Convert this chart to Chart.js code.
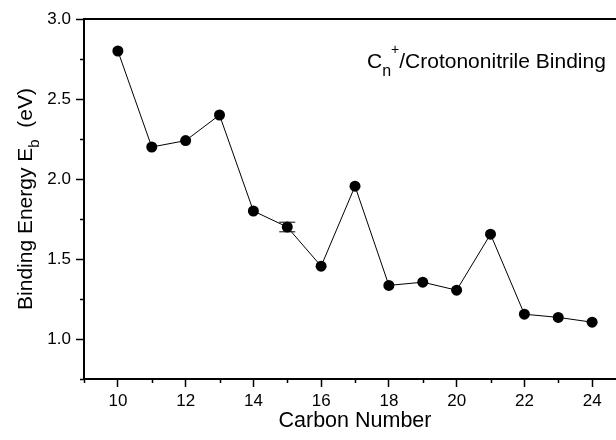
<!DOCTYPE html>
<html>
<head>
<meta charset="utf-8">
<script src="https://cdn.jsdelivr.net/npm/chart.js@4"></script>
<style>
  html, body { margin: 0; padding: 0; background: #fff; overflow: hidden; }
  #wrap { width: 616px; height: 440px; overflow: hidden; }
</style>
</head>
<body>
<div id="wrap"><canvas id="bindingChart" width="640" height="440"></canvas></div>
<script>
const carbonNumbers = [10, 11, 12, 13, 14, 15, 16, 17, 18, 19, 20, 21, 22, 23, 24];
const bindingEnergy = [2.80, 2.20, 2.24, 2.40, 1.80, 1.70, 1.455, 1.955, 1.335, 1.355, 1.305, 1.655, 1.155, 1.135, 1.105];
const energyError = [0, 0, 0, 0, 0, 0.03, 0, 0, 0, 0, 0, 0, 0, 0, 0];
const xTicks = [9, 10, 11, 12, 13, 14, 15, 16, 17, 18, 19, 20, 21, 22, 23, 24, 25];
const yTicks = [0.75, 1.0, 1.25, 1.5, 1.75, 2.0, 2.25, 2.5, 2.75, 3.0];

const FONT = '"Liberation Sans", Arial, sans-serif';

const isMajorX = v => v % 2 === 0;
const isMajorY = v => Math.abs(v * 2 - Math.round(v * 2)) < 1e-6;

// draws a list of {t, size, dy} runs from the current origin
function drawRuns(c, runs, align) {
    let total = 0;
    runs.forEach(r => { c.font = `${r.size}px ${FONT}`; r.w = c.measureText(r.t).width; total += r.w; });
    let x = align === 'center' ? -total / 2 : 0;
    runs.forEach(r => {
        c.font = `${r.size}px ${FONT}`;
        c.fillText(r.t, x, r.dy || 0);
        x += r.w;
    });
}

const extras = {
    id: 'extras',
    afterDatasetsDraw(chart) {
        const c = chart.ctx;
        const a = chart.chartArea;
        const xs = chart.scales.x, ys = chart.scales.y;

        c.save();
        c.strokeStyle = '#000';
        c.lineWidth = 2;
        c.strokeRect(a.left, a.top, a.right - a.left, a.bottom - a.top);

        // minor ticks
        c.lineWidth = 1.5;
        c.beginPath();
        xTicks.filter(v => !isMajorX(v)).forEach(v => {
            const px = Math.round(xs.getPixelForValue(v)) + 0.5;
            c.moveTo(px, a.bottom);
            c.lineTo(px, a.bottom + 4);
        });
        yTicks.filter(v => !isMajorY(v)).forEach(v => {
            const py = Math.round(ys.getPixelForValue(v)) + 0.5;
            c.moveTo(a.left, py);
            c.lineTo(a.left - 4, py);
        });
        c.stroke();

        // error bars
        c.lineWidth = 1;
        energyError.forEach((e, i) => {
            if (!e) return;
            const px = xs.getPixelForValue(carbonNumbers[i]);
            const top = ys.getPixelForValue(bindingEnergy[i] + e);
            const bot = ys.getPixelForValue(bindingEnergy[i] - e);
            c.beginPath();
            c.moveTo(px, top); c.lineTo(px, bot);
            c.moveTo(px - 8, top); c.lineTo(px + 8, top);
            c.moveTo(px - 8, bot); c.lineTo(px + 8, bot);
            c.stroke();
        });
        c.restore();
    },
    afterDraw(chart) {
        const c = chart.ctx;
        const a = chart.chartArea;
        c.save();
        c.fillStyle = '#000';
        c.textBaseline = 'alphabetic';
        c.textAlign = 'left';

        // x title
        c.setTransform(1, 0, 0, 1, (a.left + a.right) / 2, 427);
        drawRuns(c, [{ t: 'Carbon Number', size: 21.5 }], 'center');

        // y title, rotated, with subscript
        c.setTransform(1, 0, 0, 1, 32, (a.top + a.bottom) / 2);
        c.rotate(-Math.PI / 2);
        drawRuns(c, [
            { t: 'Binding Energy E', size: 21 },
            { t: 'b', size: 15, dy: 7 },
            { t: '  (eV)', size: 21 }
        ], 'center');

        // annotation
        c.setTransform(1, 0, 0, 1, 367, 67.5);
        drawRuns(c, [
            { t: 'C', size: 21 },
            { t: 'n', size: 16, dy: 8 },
            { t: '+', size: 14, dy: -14 },
            { t: '/Crotononitrile Binding', size: 21 }
        ], 'left');
        c.restore();
    }
};

const ctx = document.getElementById('bindingChart').getContext('2d');
new Chart(ctx, {
    type: 'scatter',
    data: {
        datasets: [{
            data: carbonNumbers.map((n, i) => ({ x: n, y: bindingEnergy[i] })),
            showLine: true,
            borderColor: '#000',
            borderWidth: 1,
            backgroundColor: '#000',
            pointBackgroundColor: '#000',
            pointBorderColor: '#000',
            pointRadius: 5.5,
            pointBorderWidth: 0
        }]
    },
    options: {
        responsive: false,
        animation: false,
        events: [],
        layout: { padding: { top: 19, right: 14, left: 0, bottom: 0 } },
        plugins: { legend: { display: false }, tooltip: { enabled: false } },
        scales: {
            x: {
                type: 'linear',
                min: 9, max: 25,
                afterBuildTicks: s => { s.ticks = xTicks.map(v => ({ value: v })); },
                afterFit: s => { s.height = 61; },
                border: { display: true, color: '#000', width: 2 },
                grid: {
                    drawOnChartArea: false,
                    tickLength: 8,
                    tickWidth: 1.5,
                    tickColor: c => (c.tick && isMajorX(c.tick.value)) ? '#000' : 'rgba(0,0,0,0)'
                },
                ticks: {
                    color: '#000',
                    padding: 4,
                    maxRotation: 0,
                    autoSkip: false,
                    font: { family: FONT, size: 17 },
                    callback: v => isMajorX(v) ? String(v) : ''
                }
            },
            y: {
                type: 'linear',
                min: 0.75, max: 3.0,
                afterBuildTicks: s => { s.ticks = yTicks.map(v => ({ value: v })); },
                afterFit: s => { s.width = 84; },
                border: { display: true, color: '#000', width: 2 },
                grid: {
                    drawOnChartArea: false,
                    tickLength: 8,
                    tickWidth: 1.5,
                    tickColor: c => (c.tick && isMajorY(c.tick.value)) ? '#000' : 'rgba(0,0,0,0)'
                },
                ticks: {
                    color: '#000',
                    padding: 5,
                    autoSkip: false,
                    font: { family: FONT, size: 17 },
                    callback: v => isMajorY(v) ? v.toFixed(1) : ''
                }
            }
        }
    },
    plugins: [extras]
});
</script>
</body>
</html>
